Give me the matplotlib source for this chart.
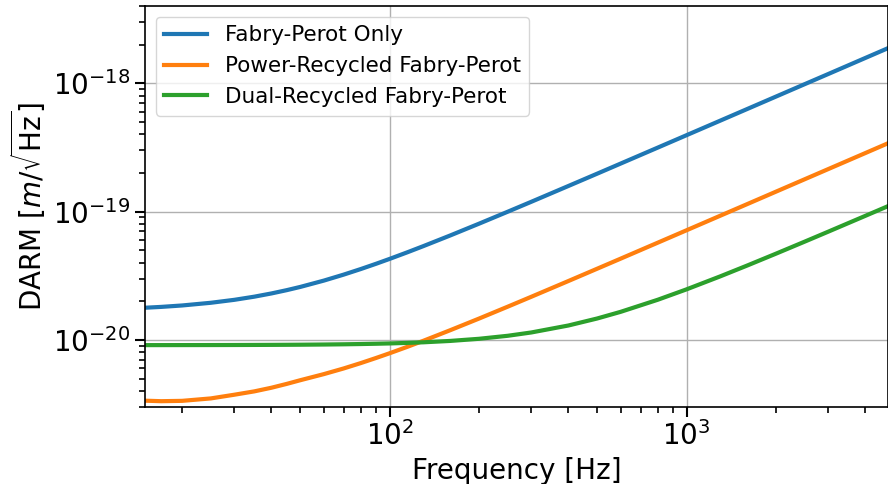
import matplotlib
matplotlib.use("Agg")
import matplotlib.pyplot as plt

# Frequency grid [Hz] and DARM displacement noise [m/sqrt(Hz)] for each configuration
freq = [15, 17, 20, 25, 30, 35, 40, 45, 50, 60, 70, 80, 90, 100, 115, 130, 160,
        200, 250, 300, 400, 500, 600, 800, 1000, 1300, 1600, 2000, 2500, 3000,
        4000, 4800]

fp_only = [1.781e-20, 1.808e-20, 1.855e-20, 1.947e-20, 2.053e-20, 2.172e-20,
           2.302e-20, 2.441e-20, 2.587e-20, 2.897e-20, 3.226e-20, 3.568e-20,
           3.919e-20, 4.278e-20, 4.826e-20, 5.384e-20, 6.515e-20, 8.046e-20,
           9.979e-20, 1.192e-19, 1.583e-19, 1.974e-19, 2.367e-19, 3.152e-19,
           3.938e-19, 5.117e-19, 6.297e-19, 7.871e-19, 9.838e-19, 1.180e-18,
           1.574e-18, 1.889e-18]

prfp = [3.36e-21, 3.33e-21, 3.35e-21, 3.50e-21, 3.74e-21, 3.97e-21,
        4.24e-21, 4.54e-21, 4.85e-21, 5.41e-21, 5.99e-21, 6.60e-21,
        7.23e-21, 7.87e-21, 8.85e-21, 9.85e-21, 1.190e-20, 1.466e-20,
        1.816e-20, 2.168e-20, 2.876e-20, 3.587e-20, 4.298e-20, 5.724e-20,
        7.150e-20, 9.292e-20, 1.143e-19, 1.429e-19, 1.786e-19, 2.143e-19,
        2.857e-19, 3.429e-19]

drfp = [9.106e-21, 9.108e-21, 9.112e-21, 9.118e-21, 9.126e-21, 9.136e-21,
        9.147e-21, 9.159e-21, 9.173e-21, 9.205e-21, 9.242e-21, 9.285e-21,
        9.334e-21, 9.386e-21, 9.480e-21, 9.580e-21, 9.818e-21, 1.0200e-20,
        1.0768e-20, 1.1427e-20, 1.2950e-20, 1.4683e-20, 1.6549e-20, 2.0553e-20,
        2.4769e-20, 3.130e-20, 3.797e-20, 4.697e-20, 5.831e-20, 6.971e-20,
        9.260e-20, 1.1094e-19]

labels = ["Fabry-Perot Only", "Power-Recycled Fabry-Perot", "Dual-Recycled Fabry-Perot"]

fig = plt.figure(figsize=(8.88, 4.84), dpi=100)
ax = fig.add_axes([145 / 888, 1 - 407 / 484, (888 - 145) / 888, (407 - 6) / 484])

for series, name in zip([fp_only, prfp, drfp], labels):
    ax.loglog(freq, series, lw=3, label=name)

ax.set_xlim(15, 4770)
ax.set_ylim(3.0e-21, 4.0e-18)
ax.grid(True, which="major", color="#b0b0b0", lw=1)

ax.tick_params(which="major", labelsize=20, length=7, width=1.5)
ax.tick_params(which="minor", length=4.5, width=1.2)
for s in ax.spines.values():
    s.set_linewidth(1.2)

ax.set_xlabel("Frequency [Hz]", fontsize=20)
ax.set_ylabel(r"DARM [$m/\sqrt{\mathrm{Hz}}$]", fontsize=20)
ax.legend(loc="upper left", fontsize=15.5)

fig.savefig("out.png", dpi=100)
